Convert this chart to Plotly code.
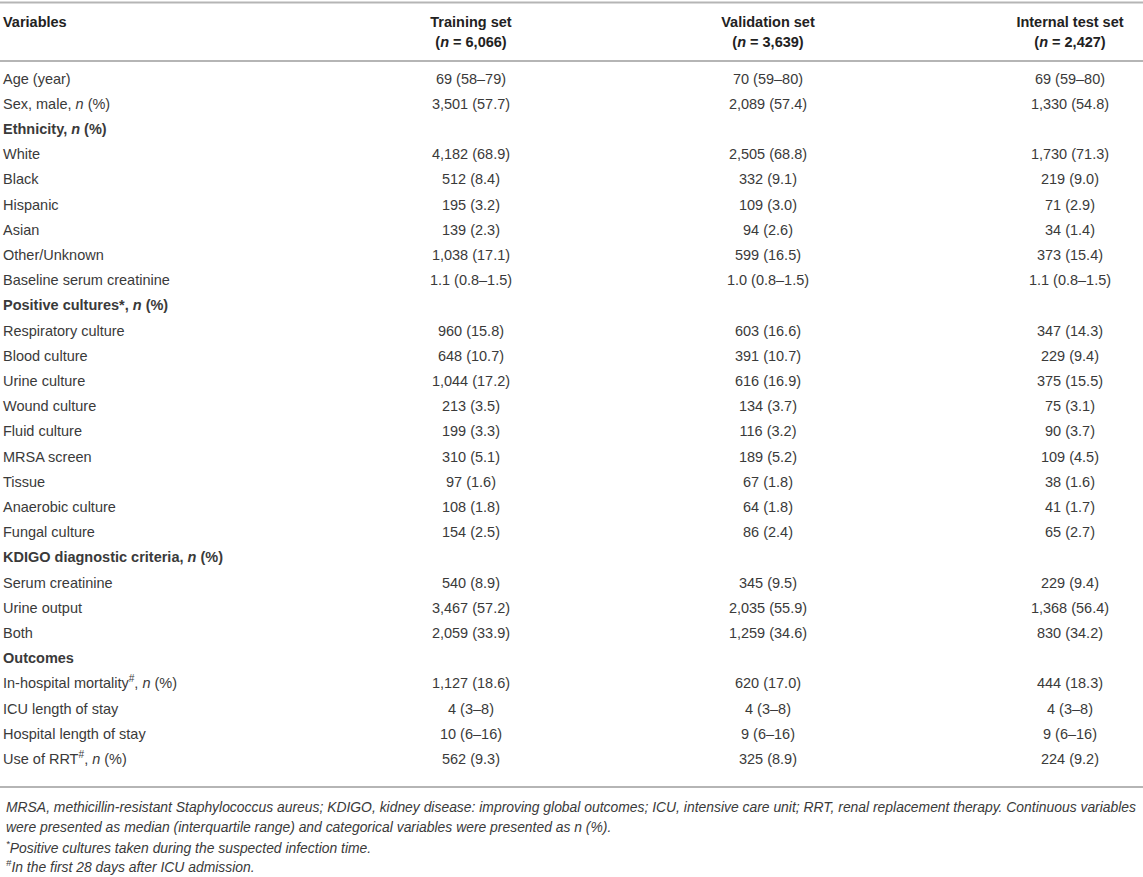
"""Tabla de características basales por conjunto (training / validation / test)."""

import plotly.graph_objects as go

# Filas de la tabla (las secciones en negrita no llevan valores)
variables = [
    "Age (year)",
    "Sex, male, <i>n</i> (%)",
    "<b>Ethnicity, <i>n</i> (%)</b>",
    "White",
    "Black",
    "Hispanic",
    "Asian",
    "Other/Unknown",
    "Baseline serum creatinine",
    "<b>Positive cultures*, <i>n</i> (%)</b>",
    "Respiratory culture",
    "Blood culture",
    "Urine culture",
    "Wound culture",
    "Fluid culture",
    "MRSA screen",
    "Tissue",
    "Anaerobic culture",
    "Fungal culture",
    "<b>KDIGO diagnostic criteria, <i>n</i> (%)</b>",
    "Serum creatinine",
    "Urine output",
    "Both",
    "<b>Outcomes</b>",
    "In-hospital mortality<sup>#</sup>, <i>n</i> (%)",
    "ICU length of stay",
    "Hospital length of stay",
    "Use of RRT<sup>#</sup>, <i>n</i> (%)",
]

training = [
    "69 (58–79)", "3,501 (57.7)", "",
    "4,182 (68.9)", "512 (8.4)", "195 (3.2)", "139 (2.3)", "1,038 (17.1)",
    "1.1 (0.8–1.5)", "",
    "960 (15.8)", "648 (10.7)", "1,044 (17.2)", "213 (3.5)", "199 (3.3)",
    "310 (5.1)", "97 (1.6)", "108 (1.8)", "154 (2.5)", "",
    "540 (8.9)", "3,467 (57.2)", "2,059 (33.9)", "",
    "1,127 (18.6)", "4 (3–8)", "10 (6–16)", "562 (9.3)",
]

validation = [
    "70 (59–80)", "2,089 (57.4)", "",
    "2,505 (68.8)", "332 (9.1)", "109 (3.0)", "94 (2.6)", "599 (16.5)",
    "1.0 (0.8–1.5)", "",
    "603 (16.6)", "391 (10.7)", "616 (16.9)", "134 (3.7)", "116 (3.2)",
    "189 (5.2)", "67 (1.8)", "64 (1.8)", "86 (2.4)", "",
    "345 (9.5)", "2,035 (55.9)", "1,259 (34.6)", "",
    "620 (17.0)", "4 (3–8)", "9 (6–16)", "325 (8.9)",
]

internal_test = [
    "69 (59–80)", "1,330 (54.8)", "",
    "1,730 (71.3)", "219 (9.0)", "71 (2.9)", "34 (1.4)", "373 (15.4)",
    "1.1 (0.8–1.5)", "",
    "347 (14.3)", "229 (9.4)", "375 (15.5)", "75 (3.1)", "90 (3.7)",
    "109 (4.5)", "38 (1.6)", "41 (1.7)", "65 (2.7)", "",
    "229 (9.4)", "1,368 (56.4)", "830 (34.2)", "",
    "444 (18.3)", "4 (3–8)", "9 (6–16)", "224 (9.2)",
]

column_titles = ["Training set", "Validation set", "Internal test set"]
column_n = ["6,066", "3,639", "2,427"]

footnotes = [
    "MRSA, methicillin-resistant Staphylococcus aureus; KDIGO, kidney disease: improving global outcomes; "
    "ICU, intensive care unit; RRT, renal replacement therapy. Continuous variables",
    "were presented as median (interquartile range) and categorical variables were presented as n (%).",
    "<sup>*</sup>Positive cultures taken during the suspected infection time.",
    "<sup>#</sup>In the first 28 days after ICU admission.",
]

# Geometría (px) — la figura mide 1143x877 y los ejes ocupan todo
W, H = 1143, 877
ROW0, ROW_H = 80, 25.2
COL_X = [471, 768, 1070]
LEFT_X = 3
FONT = "Liberation Sans, Arial, sans-serif"
TXT = "#3a3a3a"
HEAD = "#222222"
LINE = "#b5b5b5"
SIZE = 14.5


def row_y(px: float) -> float:
    """Convierte una posición en píxeles a unidades de fila."""
    return (px - ROW0) / ROW_H


fig = go.Figure()

fig.add_trace(
    go.Scatter(
        x=[LEFT_X] * len(variables),
        y=list(range(len(variables))),
        mode="text",
        text=variables,
        textposition="middle right",
        textfont=dict(family=FONT, size=SIZE, color=TXT),
        hoverinfo="skip",
        showlegend=False,
    )
)

for cx, values in zip(COL_X, [training, validation, internal_test]):
    idx = [i for i, v in enumerate(values) if v]
    fig.add_trace(
        go.Scatter(
            x=[cx] * len(idx),
            y=idx,
            mode="text",
            text=[values[i] for i in idx],
            textposition="middle center",
            textfont=dict(family=FONT, size=SIZE, color=TXT),
            hoverinfo="skip",
            showlegend=False,
        )
    )

# Cabecera
header_top, header_bot = row_y(23), row_y(43)
fig.add_trace(
    go.Scatter(
        x=[LEFT_X],
        y=[header_top],
        mode="text",
        text=["<b>Variables</b>"],
        textposition="middle right",
        textfont=dict(family=FONT, size=SIZE, color=HEAD),
        hoverinfo="skip",
        showlegend=False,
    )
)
fig.add_trace(
    go.Scatter(
        x=COL_X + COL_X,
        y=[header_top] * 3 + [header_bot] * 3,
        mode="text",
        text=[f"<b>{t}</b>" for t in column_titles]
        + [f"<b>(<i>n</i> = {n})</b>" for n in column_n],
        textposition="middle center",
        textfont=dict(family=FONT, size=SIZE, color=HEAD),
        hoverinfo="skip",
        showlegend=False,
    )
)

# Líneas horizontales
for py in [2.5, 61, 787]:
    fig.add_shape(
        type="line",
        xref="x",
        yref="y",
        x0=0,
        x1=W,
        y0=row_y(py),
        y1=row_y(py),
        line=dict(color=LINE, width=2),
    )

# Notas al pie
for py, note in zip([807, 827, 847, 866], footnotes):
    fig.add_annotation(
        x=LEFT_X + 1,
        y=row_y(py),
        xref="x",
        yref="y",
        text=f"<i>{note}</i>",
        showarrow=False,
        xanchor="left",
        yanchor="middle",
        font=dict(family=FONT, size=13.9, color=TXT),
    )

fig.update_layout(
    width=W,
    height=H,
    margin=dict(l=0, r=0, t=0, b=0),
    paper_bgcolor="white",
    plot_bgcolor="white",
    hovermode=False,
    xaxis=dict(range=[0, W], visible=False, fixedrange=True),
    yaxis=dict(range=[row_y(H), row_y(0)], visible=False, fixedrange=True),
)

# Sin el margen por defecto del <body> la figura cae justo en la ventana
fig.write_html(
    "out.html",
    config={"displayModeBar": False},
    post_script="document.body.style.margin = '0px';",
)
